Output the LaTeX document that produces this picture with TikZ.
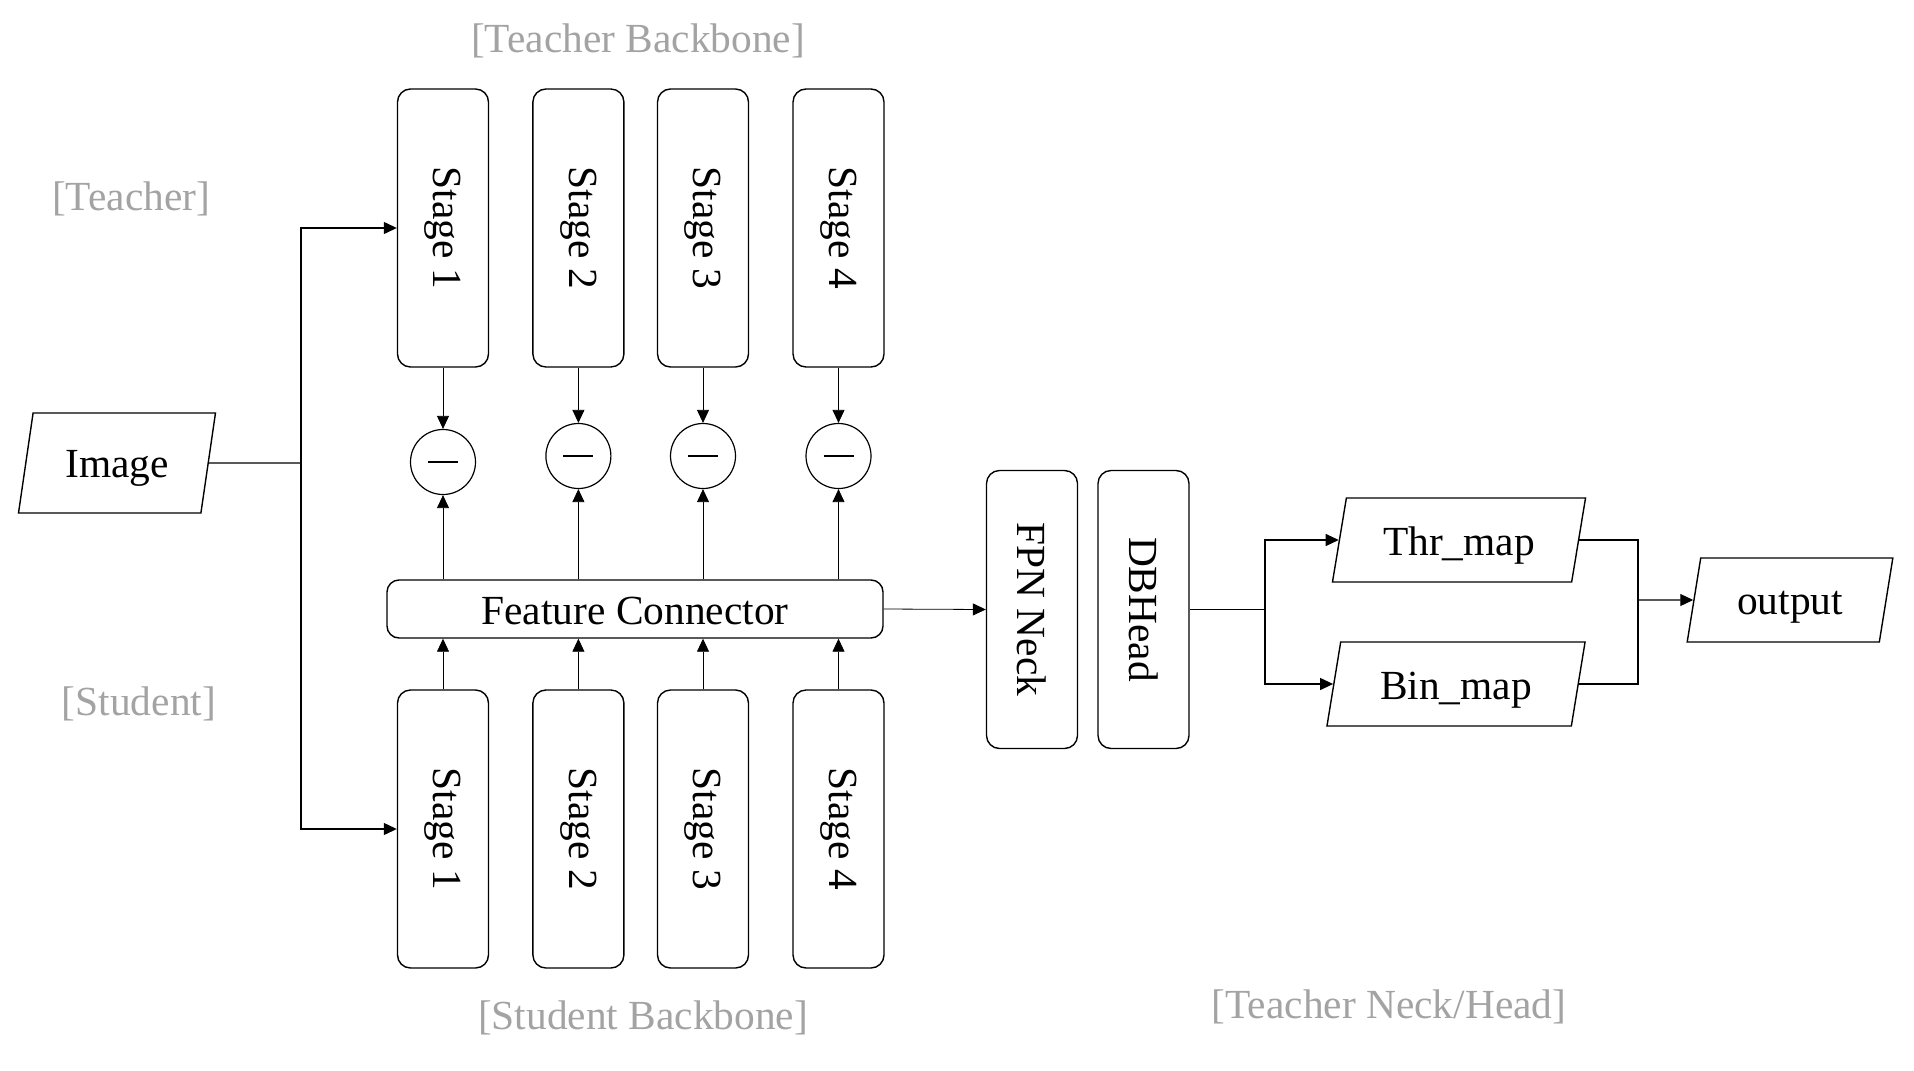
\documentclass[tikz,border=0pt]{standalone}
\usepackage{fontspec}
\setmainfont{Liberation Serif}
\usepackage{graphicx}
\usetikzlibrary{arrows.meta,shapes.geometric,calc}
\definecolor{lblgray}{HTML}{A3A3A3}
\newcommand{\lowertxt}[2]{\raisebox{-#1}[\height][\depth]{#2}}
\begin{document}
\begin{tikzpicture}[x=0.5pt,y=-0.5pt,
  font=\fontsize{20.7}{24}\selectfont,
  stagebox/.style={draw,line width=0.7pt,rounded corners=6.5pt,minimum width=45.5pt,minimum height=139pt,inner sep=0pt},
  para/.style={draw,line width=0.7pt,trapezium,trapezium left angle=76,trapezium right angle=104,trapezium stretches=true,inner sep=0pt},
  minusc/.style={draw,circle,line width=0.6pt,minimum size=32.5pt,inner sep=0pt,
    path picture={\draw[line width=0.7pt] ([xshift=-7.5pt]path picture bounding box.center) -- ([xshift=7.5pt]path picture bounding box.center);}},
  arr/.style={-{Triangle[length=6.5pt,width=6pt]}},
  thinl/.style={line width=0.4pt},
  link/.style={line width=0.6pt},
  grey/.style={text=lblgray}]
\useasboundingbox (0,0) rectangle (1914,1070);

% teacher stages
\node[stagebox] (t1) at (443,228) {\rotatebox{-90}{Stage 1}};
\node[stagebox] (t2) at (578.4,228) {\rotatebox{-90}{Stage 2}};
\node[stagebox] (t3) at (703,228) {\rotatebox{-90}{Stage 3}};
\node[stagebox] (t4) at (838.5,228) {\rotatebox{-90}{Stage 4}};
% student stages
\node[stagebox] (b1) at (443,829) {\rotatebox{-90}{Stage 1}};
\node[stagebox] (b2) at (578.4,829) {\rotatebox{-90}{Stage 2}};
\node[stagebox] (b3) at (703,829) {\rotatebox{-90}{Stage 3}};
\node[stagebox] (b4) at (838.5,829) {\rotatebox{-90}{Stage 4}};
% minus circles
\node[minusc] (c1) at (443,462) {};
\node[minusc] (c2) at (578.4,456) {};
\node[minusc] (c3) at (703,456) {};
\node[minusc] (c4) at (838.5,456) {};
% feature connector
\node[draw,line width=0.7pt,rounded corners=6pt,minimum width=248pt,minimum height=29pt,inner sep=0pt] (fc) at (635,609) {\lowertxt{1.2pt}{Feature Connector}};
% neck / head
\node[stagebox] (fpn) at (1032,609.5) {\rotatebox{-90}{FPN Neck}};
\node[stagebox] (dbh) at (1143.5,609.5) {\rotatebox{-90}{DBHead}};
% parallelograms
\node[para,minimum width=99pt,minimum height=50pt] (img) at (117,463) {\lowertxt{2.8pt}{Image}};
\node[para,minimum width=127pt,minimum height=42pt] (thr) at (1459,540) {\lowertxt{3pt}{Thr\_map}};
\node[para,minimum width=130pt,minimum height=42pt] (bin) at (1456,684) {\lowertxt{3pt}{Bin\_map}};
\node[para,minimum width=103pt,minimum height=42pt] (out) at (1790,600) {\lowertxt{3.5pt}{output}};

% labels
\node[grey] (lb1) at (638,41) {[Teacher Backbone]};
\node[grey] (lb2) at (131,198.5) {[Teacher]};
\node[grey] (lb3) at (139,704) {[Student]};
\node[grey] (lb4) at (643,1017.5) {[Student Backbone]};
\node[grey] (lb5) at (1389,1006.5) {[Teacher Neck/Head]};

% connectors
\coordinate (j1) at (301,463);
\draw[link] (img.east) -- (j1);
\draw[link,arr] (j1) |- (t1.west);
\draw[link,arr] (j1) |- (b1.west);

\foreach \k in {1,2,3,4}{
  \draw[thinl,arr] (t\k.south) -- (c\k.north);
  \draw[thinl,arr] (fc.north -| c\k) -- (c\k.south);
  \draw[thinl,arr] (b\k.north) -- (b\k.north |- fc.south);
}
\draw[thinl,arr] (fc.east) -- (fpn.west);

\coordinate (j2) at (1265,609.5);
\draw[link] (dbh.east) -- (j2);
\draw[link,arr] (j2) |- (thr.west);
\draw[link,arr] (j2) |- (bin.west);
\coordinate (j3) at (1638,600);
\draw[link] (thr.east) -| (j3) |- (bin.east);
\draw[link,arr] (j3) -- (out.west);
\end{tikzpicture}
\end{document}
